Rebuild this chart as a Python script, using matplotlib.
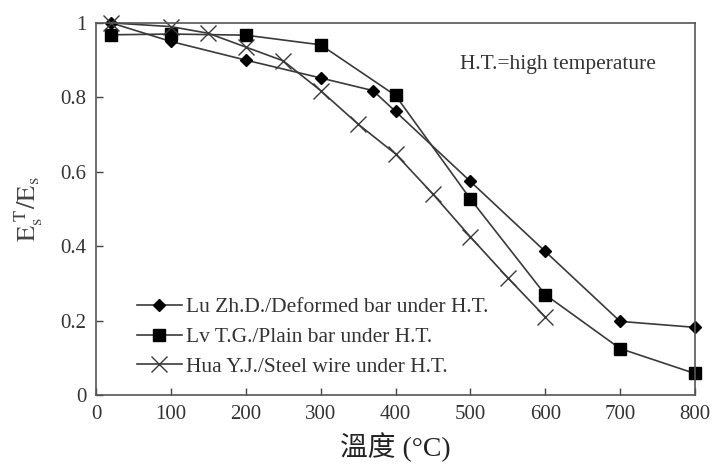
import matplotlib
matplotlib.use("Agg")
import matplotlib.pyplot as plt

# --- donnees --- #
temp_lu = [20, 100, 200, 300, 370, 400, 500, 600, 700, 800]
es_lu = [1.0, 0.95, 0.90, 0.852, 0.818, 0.762, 0.574, 0.386, 0.198, 0.182]

temp_lv = [20, 100, 200, 300, 400, 500, 600, 700, 800]
es_lv = [0.968, 0.97, 0.967, 0.941, 0.805, 0.527, 0.27, 0.125, 0.058]

temp_hua = [20, 100, 150, 200, 250, 300, 350, 400, 450, 500, 550, 600]
es_hua = [1.0, 0.99, 0.972, 0.935, 0.898, 0.818, 0.728, 0.648, 0.54, 0.425, 0.315, 0.21]

labels = ["Lu Zh.D./Deformed bar under H.T.",
          "Lv T.G./Plain bar under H.T.",
          "Hua Y.J./Steel wire under H.T."]

plt.rcParams['font.family'] = ['Liberation Serif', 'DejaVu Serif']
plt.rcParams['mathtext.fontset'] = 'stix'

fig = plt.figure(figsize=(7.12, 4.67), dpi=100)
ax = fig.add_axes([0.135, 0.154, 0.841, 0.797])

lc = '#3a3a3a'
ax.plot(temp_lu, es_lu, color=lc, lw=1.2, marker='D', ms=6, mfc='black', mec='black',
        label=labels[0], clip_on=False)
ax.plot(temp_lv, es_lv, color=lc, lw=1.2, marker='s', ms=8, mfc='black', mec='black',
        label=labels[1], clip_on=False)
ax.plot(temp_hua, es_hua, color=lc, lw=1.2, marker='x', ms=11, mew=1.0, mec=lc,
        label=labels[2], clip_on=False)

ax.set_xlim(0, 800)
ax.set_ylim(0, 1)
ax.set_xticks(range(0, 801, 100))
ax.set_yticks([0, 0.2, 0.4, 0.6, 0.8, 1.0])
ax.set_yticklabels(['0', '0.2', '0.4', '0.6', '0.8', '1'])
ax.tick_params(direction='in', length=5, width=1, colors='#444444', labelcolor='#333333',
               labelsize=15, pad=7)
for s in ax.spines.values():
    s.set_color('#555555')
    s.set_linewidth(1.2)

ax.set_ylabel(r'$\mathrm{E_s^{\ T}/E_s}$', fontsize=19, color='#444444', labelpad=11)
ax.set_xlabel('溫度 (°C)', fontsize=20, color='#222222', labelpad=6,
              family=['Liberation Serif', 'Noto Sans CJK TC'])

ax.text(0.608, 0.875, 'H.T.=high temperature', transform=ax.transAxes,
        fontsize=15.5, color='#333333')

ax.legend(loc='lower left', bbox_to_anchor=(0.05, 0.02), frameon=False, fontsize=15.5,
          handlelength=2.1, handletextpad=0.2, labelspacing=0.45, borderpad=0,
          labelcolor='#333333')

fig.savefig('out.png', dpi=100)
